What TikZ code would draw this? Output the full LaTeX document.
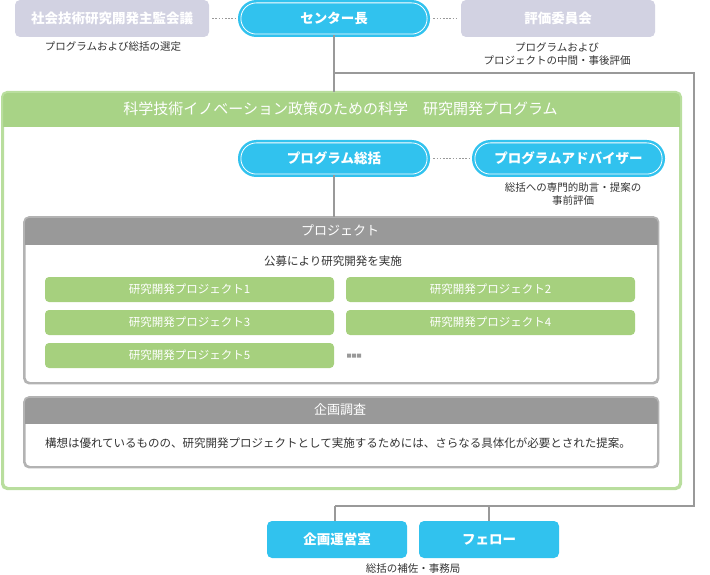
\documentclass[tikz,border=0pt]{standalone}
\usepackage{fontspec}
\setmainfont{Noto Sans CJK JP}
\definecolor{cy}{HTML}{31C2EE}
\definecolor{lav}{HTML}{D2D2E2}
\definecolor{grh}{HTML}{A8D386}
\definecolor{grb}{HTML}{B9DE9E}
\definecolor{grp}{HTML}{A6D07E}
\definecolor{gyh}{HTML}{999999}
\definecolor{gyb}{HTML}{B3B3B3}
\definecolor{ln}{HTML}{999999}
\definecolor{tx}{HTML}{333333}
\tikzset{
  lavbox/.style={fill=lav, rounded corners=5, minimum width=194, minimum height=37, inner sep=0, text=white, font=\bfseries\fontsize{13.5}{16}\selectfont},
  pill/.style={draw=cy, double=white, double distance=0.8pt, line width=2.5pt, fill=cy, rounded corners=15.5, minimum height=31.2, minimum width=186.2, inner sep=0, text=white, font=\bfseries\fontsize{13.5}{16}\selectfont},
  cybox/.style={fill=cy, rounded corners=5, minimum width=140, minimum height=37, inner sep=0, text=white, font=\bfseries\fontsize{13.5}{16}\selectfont},
  prjbox/.style={fill=grp, rounded corners=4, minimum width=289, minimum height=25, inner sep=0, text=white, font=\fontsize{11.5}{13}\selectfont},
  captxt/.style={text=tx, align=center, inner sep=0, font=\fontsize{10.5}{13}\selectfont},
  bodytxt/.style={text=tx, inner sep=0, font=\fontsize{11.5}{13}\selectfont},
  headtext/.style={text=white, inner sep=0, font=\fontsize{#1}{#1}\selectfont},
  link/.style={draw=ln, line width=2pt},
  dotlink/.style={draw=ln, line width=1.6pt, dash pattern=on 1.6pt off 1.6pt},
}
\begin{document}
\begin{tikzpicture}[x=1pt,y=-1pt]
\useasboundingbox (0,0) rectangle (710,575);

% connector coordinates
\coordinate (j1) at (334,73);
\coordinate (j2) at (694,73);
\coordinate (j3) at (694,506);
\coordinate (j4) at (335,506);
\coordinate (j5) at (489,506);

% top row
\node[lavbox] (council) at (112,18.5) {社会技術研究開発主監会議};
\node[pill] (director) at (334,18.5) {センター長};
\node[lavbox] (eval) at (558,18.5) {評価委員会};
\node[captxt] (councilcap) at (113,47) {プログラムおよび総括の選定};
\node[captxt] (evalcap) at (557,54) {プログラムおよび\\プロジェクトの中間・事後評価};

% program panel
\node[draw=grb, line width=2pt, rounded corners=5, minimum width=677, minimum height=395, inner sep=0, anchor=north west] (prog) at (2,92) {};
\begin{scope}
  \clip[rounded corners=5] (prog.north west) rectangle (prog.south east);
  \fill[grh] (prog.north west) rectangle ([yshift=-35pt]prog.north east);
\end{scope}
\draw[grb, line width=2pt, rounded corners=5] (prog.north west) rectangle (prog.south east);
\node[headtext=15] (progtitle) at (340.5,109) {科学技術イノベーション政策のための科学　研究開発プログラム};

% connectors
\draw[link] (director.south) -- (director.south |- prog.north);
\draw[link] (j1) -- (j2) -- (j3) -- (j4);

\node[pill] (pd) at (334,158.5) {プログラム総括};
\node[pill, minimum width=187.2] (adv) at (568.5,158.5) {プログラムアドバイザー};
\node[captxt] (advcap) at (573,194) {総括への専門的助言・提案の\\事前評価};

% project panel
\node[draw=gyb, line width=1.6pt, rounded corners=5, minimum width=633, minimum height=165, inner sep=0, anchor=north west] (proj) at (24,217) {};
\begin{scope}
  \clip[rounded corners=5] (proj.north west) rectangle (proj.south east);
  \fill[gyh] (proj.north west) rectangle ([yshift=-28pt]proj.north east);
\end{scope}
\draw[gyb, line width=1.6pt, rounded corners=5] (proj.north west) rectangle (proj.south east);
\node[headtext=13] (projtitle) at (340,230.5) {プロジェクト};
\node[bodytxt] (projnote) at (333,261) {公募により研究開発を実施};

\draw[link] (pd.south) -- (pd.south |- proj.north);

\node[prjbox] (p1) at (189.5,289.5) {研究開発プロジェクト1};
\node[prjbox] (p2) at (490.5,289.5) {研究開発プロジェクト2};
\node[prjbox] (p3) at (189.5,322.5) {研究開発プロジェクト3};
\node[prjbox] (p4) at (490.5,322.5) {研究開発プロジェクト4};
\node[prjbox] (p5) at (189.5,355.5) {研究開発プロジェクト5};
\fill[gyh] (347,353.5) rectangle (351,357.5) (352,353.5) rectangle (356,357.5) (357,353.5) rectangle (361,357.5);

% feasibility study panel
\node[draw=gyb, line width=1.6pt, rounded corners=5, minimum width=633, minimum height=69, inner sep=0, anchor=north west] (fsp) at (24,397) {};
\begin{scope}
  \clip[rounded corners=5] (fsp.north west) rectangle (fsp.south east);
  \fill[gyh] (fsp.north west) rectangle ([yshift=-27pt]fsp.north east);
\end{scope}
\draw[gyb, line width=1.6pt, rounded corners=5] (fsp.north west) rectangle (fsp.south east);
\node[headtext=13] (fstitle) at (340,409.5) {企画調査};
\node[bodytxt] (fsnote) at (338,443) {構想は優れているものの、研究開発プロジェクトとして実施するためには、さらなる具体化が必要とされた提案。};

% dotted links
\draw[dotlink, shorten <=3pt, shorten >=5pt] (council.east) -- (director.west);
\draw[dotlink, shorten <=5pt, shorten >=3pt] (director.east) -- (eval.west);
\draw[dotlink, shorten <=5pt, shorten >=5pt] (pd.east) -- (adv.west);

% bottom
\node[cybox] (office) at (337,539.5) {企画運営室};
\node[cybox] (fellow) at (489,539.5) {フェロー};
\node[captxt] (officecap) at (413,569) {総括の補佐・事務局};
\draw[link] (j4) -- (j4 |- office.north);
\draw[link] (j5) -- (fellow.north);
\end{tikzpicture}
\end{document}
